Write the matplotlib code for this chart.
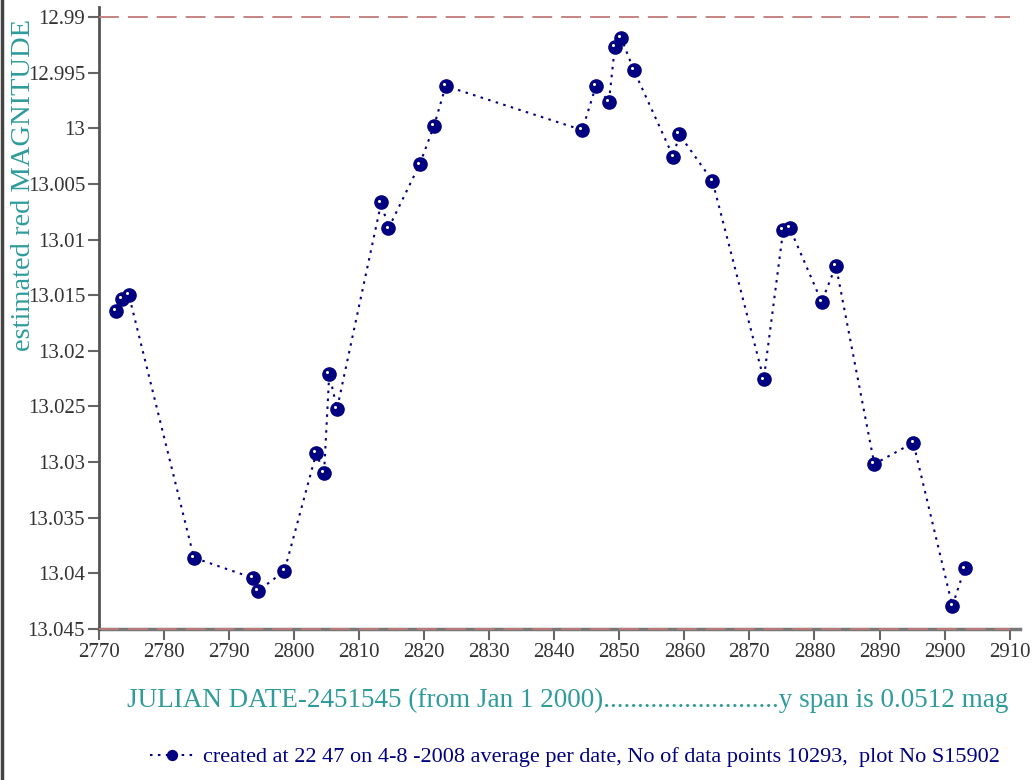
import matplotlib
matplotlib.use("Agg")
import matplotlib.pyplot as plt
from matplotlib.lines import Line2D
import matplotlib.transforms as mtransforms

# ---- data ----
jd = [2772.6, 2773.5, 2774.6, 2784.6, 2793.6, 2794.4, 2798.5, 2803.4, 2804.6,
      2805.4, 2806.6, 2813.4, 2814.5, 2819.3, 2821.5, 2823.3, 2844.3, 2846.4,
      2848.4, 2849.3, 2850.3, 2852.2, 2858.3, 2859.2, 2864.3, 2872.2, 2875.2,
      2876.2, 2881.1, 2883.3, 2889.2, 2895.2, 2901.2, 2903.1]
mag = [13.0164, 13.0153, 13.0150, 13.0386, 13.0404, 13.0416, 13.0398, 13.0292,
       13.0310, 13.0221, 13.0252, 13.00666, 13.0090, 13.00324, 12.99980,
       12.99620, 13.00016, 12.99620, 12.99761, 12.99272, 12.99191, 12.99474,
       13.00258, 13.00054, 13.00471, 13.02256, 13.00914, 13.00896, 13.01559,
       13.01235, 13.03017, 13.02826, 13.04293, 13.03955]
x_ticks = [2770, 2780, 2790, 2800, 2810, 2820, 2830, 2840, 2850, 2860, 2870,
           2880, 2890, 2900, 2910]
y_ticks = [12.99, 12.995, 13.0, 13.005, 13.01, 13.015, 13.02, 13.025, 13.03,
           13.035, 13.04, 13.045]
y_tick_labels = ["12.99", "12.995", "13", "13.005", "13.01", "13.015", "13.02",
                 "13.025", "13.03", "13.035", "13.04", "13.045"]
ref_lines = [12.99, 13.045]

xlabel = ("JULIAN DATE-2451545 (from Jan 1 2000)"
          ".........................."
          "y span is 0.0512 mag")
ylabel = "estimated red MAGNITUDE"
legend_label = ("created at 22 47 on 4-8 -2008 average per date, "
                "No of data points 10293,  plot No S15902")

SERIF = ["Liberation Serif", "DejaVu Serif"]
TEAL = "#2f9b9b"
NAVY = "#000080"
GRAY = "#555555"

fig = plt.figure(figsize=(10.34, 7.80), dpi=100)
ax = fig.add_axes([99 / 1034, 151 / 780, (1020 - 99) / 1034, (773 - 151) / 780])

# reference dashed lines
for yv in ref_lines:
    ax.plot([x_ticks[0], x_ticks[-1]], [yv, yv], color="#c07a78", lw=1.3,
            dashes=(11, 5), zorder=3, clip_on=False)

line, = ax.plot(jd, mag, color=NAVY, lw=1.5, ls=(0, (1.2, 2.6)), marker="o",
                ms=9.5, mfc=NAVY, mec=NAVY, zorder=4, label=legend_label)
hl = mtransforms.offset_copy(ax.transData, fig=fig, x=-1.3, y=1.3, units="points")
ax.plot(jd, mag, ls="none", marker="o", ms=2.2, mfc="white", mec="none",
        transform=hl, zorder=5)

ax.set_xlim(2770, 2911.6)
ax.set_ylim(13.045, 12.9891)

for s in ["top", "right"]:
    ax.spines[s].set_visible(False)
ax.spines["left"].set_color(GRAY)
ax.spines["left"].set_linewidth(2.0)
ax.spines["bottom"].set_color("#777777")
ax.spines["bottom"].set_linewidth(2.5)
ax.spines["bottom"].set_zorder(2)

ax.set_xticks(x_ticks)
ax.set_xticklabels([str(v) for v in x_ticks])
ax.set_yticks(y_ticks)
ax.set_yticklabels(y_tick_labels)
ax.tick_params(axis="both", direction="out", length=8, width=1.5,
               color="#666666", labelcolor="#333333", labelsize=15)
ax.tick_params(axis="x", pad=2)
ax.tick_params(axis="y", pad=2)
for lab in ax.get_xticklabels() + ax.get_yticklabels():
    lab.set_family(SERIF)

fig.text(24 / 1034, 1 - 185 / 780, ylabel, rotation=90, ha="center",
         va="center", color=TEAL, fontsize=20.5, family=SERIF)
fig.text(568 / 1034, 1 - 700 / 780, xlabel, ha="center", va="center",
         color=TEAL, fontsize=19.5, family=SERIF)

leg = fig.legend(handles=[line], loc="center", bbox_to_anchor=(575 / 1034, 1 - 757 / 780),
                 frameon=False, prop={"family": SERIF, "size": 16},
                 handlelength=2.0, handletextpad=0.4, markerscale=0.75)
for t in leg.get_texts():
    t.set_color(NAVY)

# left border of the picture
fig.add_artist(Line2D([0.0015, 0.0015], [0, 1], transform=fig.transFigure,
                      color="#444444", lw=2.5))

fig.savefig("out.png", dpi=100)
